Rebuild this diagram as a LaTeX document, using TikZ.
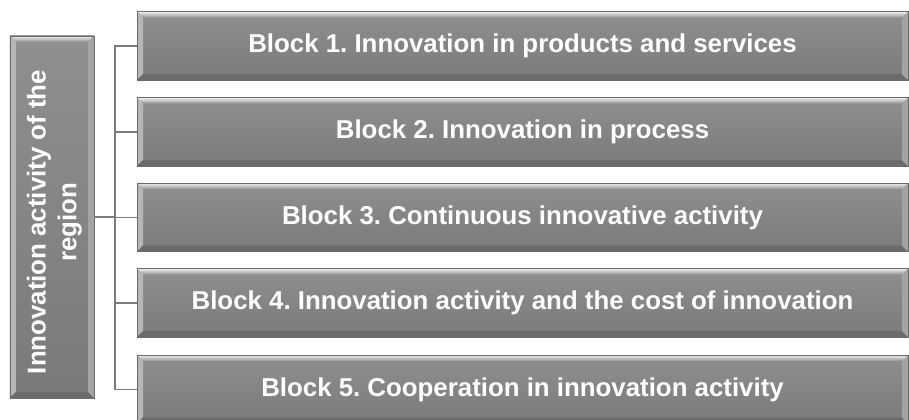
\documentclass[tikz,border=0pt]{standalone}
\usepackage{fontspec}
\setmainfont{Liberation Sans}
\usepackage{xcolor}
\usepackage{tikz}
\usetikzlibrary{positioning,calc}

\definecolor{boxtop}{HTML}{8F8F92}
\definecolor{boxbot}{HTML}{7A7A7D}
\definecolor{boxedge}{HTML}{6A6A6C}
\definecolor{linkgray}{HTML}{7C7C7E}

\tikzset{
  bevel/.style={draw=boxedge, line width=0.4pt, top color=boxtop, bottom color=boxbot,
    path picture={
      \coordinate (nw) at (path picture bounding box.north west);
      \coordinate (ne) at (path picture bounding box.north east);
      \coordinate (sw) at (path picture bounding box.south west);
      \coordinate (se) at (path picture bounding box.south east);
      % top and left edges catch the light, bottom and right fall in shade
      \shade[top color=white!85!boxtop, bottom color=boxtop]
        (nw) -- (ne) -- ($(ne)+(-0.12,-0.12)$) -- ($(nw)+(0.12,-0.12)$) -- cycle;
      \fill[white!35!boxtop]
        (nw) -- ($(nw)+(0.12,-0.12)$) -- ($(sw)+(0.12,0.12)$) -- (sw) -- cycle;
      \fill[black!12!boxbot]
        (sw) -- ($(sw)+(0.12,0.12)$) -- ($(se)+(-0.12,0.12)$) -- (se) -- cycle;
      \fill[white!18!boxtop]
        (ne) -- (se) -- ($(se)+(-0.12,0.12)$) -- ($(ne)+(-0.12,-0.12)$) -- cycle;
    }},
  block/.style={bevel, minimum width=15.42cm, minimum height=1.37cm, inner sep=0pt},
  lbl/.style={text=white, font=\fontsize{14.7}{17.5}\selectfont\bfseries},
  link/.style={draw=linkgray, line width=1.1pt}
}

\begin{document}
\frenchspacing
\begin{tikzpicture}
  \clip (0,0) rectangle (18.18,8.4);
  \useasboundingbox (0,0) rectangle (18.18,8.4);

  \node[bevel, minimum width=1.68cm, minimum height=7.24cm] (region) at (1.04,4.06) {};
  \node[lbl, rotate=90, align=center] (regiontxt) at ($(region)+(0.05,-0.1)$) {Innovation activity of the\\region};

  \foreach \i/\y/\txt in {1/7.48/Block 1. Innovation in products and services,
                          2/5.76/Block 2. Innovation in process,
                          3/4.05/Block 3. Continuous innovative activity,
                          4/2.34/Block 4. Innovation activity and the cost of innovation,
                          5/0.61/Block 5. Cooperation in innovation activity} {
      \node[block, lbl] (b\i) at (10.45,\y) {\txt};
      \draw[link] (region.east) -- ++(0.42,0) |- (b\i.west);
    }
\end{tikzpicture}
\end{document}
